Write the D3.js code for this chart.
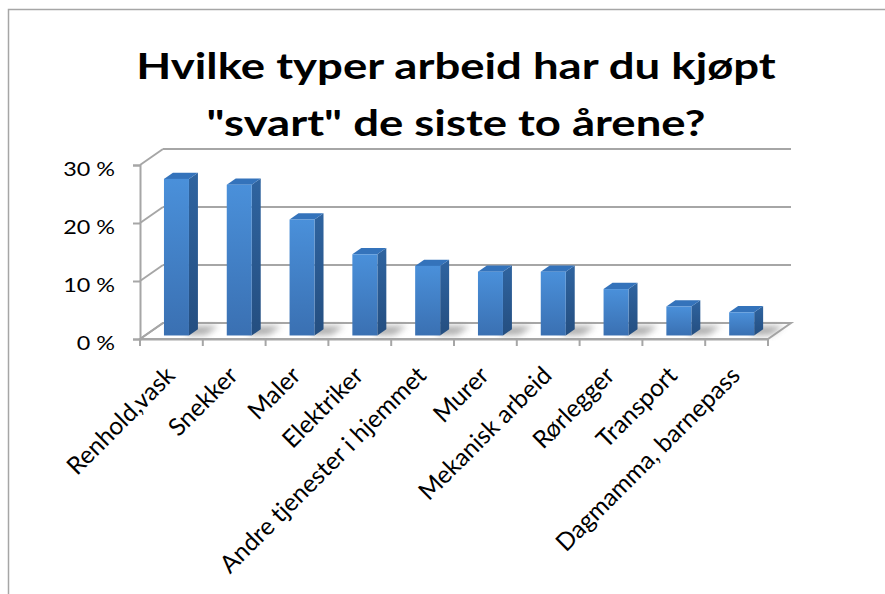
<!DOCTYPE html>
<html>
<head>
<meta charset="utf-8">
<script src="https://cdn.jsdelivr.net/npm/d3@7"></script>
<style>
  body { margin: 0; background: #fff; }
  text { font-family: Lato, "Open Sans", sans-serif; fill: #000; }
</style>
</head>
<body>
<div id="chart"></div>
<script>
// data
var categories = ["Renhold,vask", "Snekker", "Maler", "Elektriker", "Andre tjenester i hjemmet",
                  "Murer", "Mekanisk arbeid", "Rørlegger", "Transport", "Dagmamma, barnepass"];
var values = [27, 26, 20, 14, 12, 11, 11, 8, 5, 4];
var yTicks = [0, 10, 20, 30];
var titleLines = ["Hvilke typer arbeid har du kjøpt", "\"svart\" de siste to årene?"];

var width = 885, height = 594;
var stretch = 1.17; // the original text is a bit wider than Lato
var svg = d3.select("#chart").append("svg")
  .attr("width", width).attr("height", height);

// chart frame
svg.append("rect")
  .attr("x", 8.5).attr("y", 9.5)
  .attr("width", width + 20).attr("height", height + 20)
  .attr("fill", "#fff").attr("stroke", "#a6a6a6").attr("stroke-width", 1.5);

// title
svg.append("g").attr("transform", "translate(456,0) scale(1.23,1)")
  .append("text")
  .attr("text-anchor", "middle")
  .attr("font-weight", "bold").attr("font-size", 37)
  .selectAll("tspan").data(titleLines).join("tspan")
    .attr("x", 0)
    .attr("y", function(d, i) { return 79 + i * 57; })
    .text(function(d) { return d; });

// 3d-ish plot: front plane + depth vector
var depth = {dx: 23, dy: -16};
var x = d3.scaleBand().domain(categories).range([140, 768]);
var y = d3.scaleLinear().domain([0, 30]).range([339, 165]);
var proj = function(px, v, d) { return [px + depth.dx * d, y(v) + depth.dy * d]; };
var gridColor = "#a6a6a6";

var defs = svg.append("defs");
var front = defs.append("linearGradient").attr("id", "barFront")
  .attr("x1", 0).attr("y1", 0).attr("x2", 0).attr("y2", 1);
front.append("stop").attr("offset", 0).attr("stop-color", "#4a90da");
front.append("stop").attr("offset", 1).attr("stop-color", "#3a70b2");
var side = defs.append("linearGradient").attr("id", "barSide")
  .attr("x1", 0).attr("y1", 0).attr("x2", 0).attr("y2", 1);
side.append("stop").attr("offset", 0).attr("stop-color", "#2f64a0");
side.append("stop").attr("offset", 1).attr("stop-color", "#244e80");
defs.append("filter").attr("id", "blur")
  .attr("x", "-50%").attr("y", "-50%").attr("width", "200%").attr("height", "200%")
  .append("feGaussianBlur").attr("stdDeviation", 3);

var x0 = x.range()[0], x1 = x.range()[1];

// floor
var floorPts = [proj(x0, 0, 0), proj(x1, 0, 0), proj(x1, 0, 1), proj(x0, 0, 1)];
svg.append("polygon")
  .attr("points", floorPts.map(function(p) { return p.join(","); }).join(" "))
  .attr("fill", "#fff").attr("stroke", gridColor).attr("stroke-width", 2);

// back wall gridlines
svg.append("g").selectAll("line").data(yTicks).join("line")
  .attr("x1", proj(x0, 0, 1)[0]).attr("x2", proj(x1, 0, 1)[0])
  .attr("y1", function(d) { return proj(x0, d, 1)[1]; })
  .attr("y2", function(d) { return proj(x0, d, 1)[1]; })
  .attr("stroke", gridColor).attr("stroke-width", 2);

// side wall lines
svg.append("g").selectAll("line").data(yTicks).join("line")
  .attr("x1", x0).attr("y1", function(d) { return y(d); })
  .attr("x2", proj(x0, 0, 1)[0]).attr("y2", function(d) { return proj(x0, d, 1)[1]; })
  .attr("stroke", gridColor).attr("stroke-width", 2);

// y axis
var yAxis = svg.append("g").attr("transform", "translate(" + x0 + ",0)")
  .call(d3.axisLeft(y).tickValues(yTicks).tickSize(7).tickFormat(""));
yAxis.select(".domain").attr("stroke", gridColor).attr("stroke-width", 2);
yAxis.selectAll(".tick line").attr("stroke", gridColor).attr("stroke-width", 2);
svg.append("g").selectAll("g").data(yTicks).join("g")
  .attr("transform", function(d) { return "translate(115," + (y(d) + 4) + ") scale(" + stretch + ",1)"; })
  .append("text")
  .attr("text-anchor", "end").attr("dy", "0.35em").attr("font-size", 20)
  .text(function(d) { return d + " %"; });

// x axis
var xAxis = svg.append("g").attr("transform", "translate(0," + y(0) + ")")
  .call(d3.axisBottom(x).tickSize(0).tickFormat(""));
xAxis.select(".domain").attr("stroke", gridColor).attr("stroke-width", 2);
svg.append("g").selectAll("line").data(categories.concat([null])).join("line")
  .attr("x1", function(d, i) { return x0 + i * x.step(); })
  .attr("x2", function(d, i) { return x0 + i * x.step(); })
  .attr("y1", y(0)).attr("y2", y(0) + 7)
  .attr("stroke", gridColor).attr("stroke-width", 2);

// category labels
svg.append("g").selectAll("text").data(categories).join("text")
  .attr("transform", function(d) {
    return "translate(" + (x(d) + x.bandwidth() / 2 + 5) + "," + 377 + ") rotate(-45)";
  })
  .attr("text-anchor", "end").attr("font-size", 24.5)
  .text(function(d) { return d; });

// bars
var barW = 25, dFront = 0.22, dBack = 0.61;
var bars = svg.append("g").selectAll("g").data(values).join("g");
var poly = function(pts) { return pts.map(function(p) { return p.join(","); }).join(" "); };
var left = function(d, i) { return x(categories[i]) + x.bandwidth() / 2 - barW / 2; };

// shadow on the floor
bars.append("polygon")
  .attr("points", function(d, i) {
    var l = left(d, i);
    return poly([proj(l + barW, 0, dFront), proj(l + barW + 16, 0, dFront + 0.05),
                 proj(l + barW + 16, 0, dBack + 0.2), proj(l + 4, 0, dBack + 0.2)]);
  })
  .attr("fill", "#9a9a9a").attr("opacity", 0.8).attr("filter", "url(#blur)");

// side face
bars.append("polygon")
  .attr("points", function(d, i) {
    var l = left(d, i) + barW;
    return poly([proj(l, 0, dFront), proj(l, 0, dBack), proj(l, d, dBack), proj(l, d, dFront)]);
  })
  .attr("fill", "url(#barSide)");

// top face
bars.append("polygon")
  .attr("points", function(d, i) {
    var l = left(d, i);
    return poly([proj(l, d, dFront), proj(l + barW, d, dFront), proj(l + barW, d, dBack), proj(l, d, dBack)]);
  })
  .attr("fill", "#3473bb");

// front face
bars.append("rect")
  .attr("x", function(d, i) { return proj(left(d, i), 0, dFront)[0]; })
  .attr("y", function(d) { return proj(0, d, dFront)[1]; })
  .attr("width", barW)
  .attr("height", function(d) { return y(0) - y(d); })
  .attr("fill", "url(#barFront)");
</script>
</body>
</html>
